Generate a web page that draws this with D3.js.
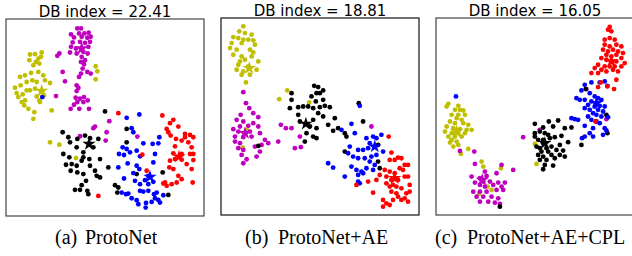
<!DOCTYPE html>
<html>
<head>
<meta charset="utf-8">
<script src="https://cdn.jsdelivr.net/npm/d3@7"></script>
<style>
  body { margin: 0; background: #fff; }
</style>
</head>
<body>
<svg id="chart" width="632" height="256"></svg>
<script>
const classes = ["y", "m", "k", "b", "r"];
const classColors = ["#bfbf00", "#bf00bf", "#000000", "#0000ff", "#ff0000"];

const titles = ["DB index = 22.41", "DB index = 18.81", "DB index = 16.05"];
const captionLabels = ["(a)", "(b)", "(c)"];
const captionNames = ["ProtoNet", "ProtoNet+AE", "ProtoNet+AE+CPL"];

// embedding coordinates (arbitrary units)
const aYellow = [[90,163],[105,162],[125,157],[123,170],[88,180],[108,185],[115,175],[100,195],[118,190],[115,215],[130,225],[135,240],[150,248],[93,218],[75,225],[60,230],[80,245],[97,240],[110,245],[62,255],[45,262],[50,278],[55,290],[68,282],[75,300],[80,270],[90,270],[105,265],[110,288],[132,285],[120,305],[65,305],[73,315],[85,325],[103,335],[100,355],[118,300],[150,425],[178,432],[228,472],[287,198],[292,213],[287,237],[155,330]];
const aMagenta = [[232,85],[243,85],[213,103],[237,100],[253,100],[266,98],[222,112],[245,110],[262,113],[272,110],[218,127],[240,125],[255,128],[270,125],[213,140],[228,145],[265,140],[178,160],[172,167],[210,157],[230,160],[250,155],[263,160],[245,170],[255,180],[243,185],[252,192],[248,205],[262,215],[272,220],[243,220],[188,215],[195,243],[237,230],[230,255],[235,263],[227,292],[240,295],[252,290],[263,300],[232,305],[250,305],[222,313],[212,325],[238,325],[267,325],[168,287],[230,272],[285,378],[280,383],[328,362],[320,395],[317,420],[240,407],[412,408]];
const aBlack = [[315,333],[188,395],[205,410],[232,415],[255,405],[270,413],[295,415],[210,425],[230,440],[280,440],[250,455],[190,460],[208,470],[250,470],[230,495],[198,492],[215,490],[245,480],[268,475],[300,475],[270,495],[212,510],[232,515],[250,520],[285,510],[290,525],[300,530],[325,500],[258,540],[245,553],[225,567],[240,567],[262,570],[265,580],[345,553],[355,560],[352,575],[380,385],[380,425],[505,582],[488,515],[410,520]];
const aBlue = [[380,352],[418,342],[395,383],[400,395],[478,410],[430,428],[458,430],[475,428],[368,440],[380,445],[357,460],[372,463],[390,455],[410,450],[420,467],[465,460],[383,488],[410,495],[460,485],[355,500],[372,533],[400,517],[418,505],[445,525],[435,538],[460,543],[445,550],[405,540],[420,550],[385,578],[365,575],[378,580],[420,570],[430,572],[445,570],[462,580],[470,575],[490,583],[395,592],[410,598],[438,606],[455,603],[475,597],[465,592],[480,605],[437,620],[415,610],[127,290]];
const aRed = [[355,338],[487,345],[520,358],[510,368],[535,378],[500,385],[505,395],[512,405],[555,400],[570,403],[580,410],[555,410],[528,415],[545,420],[565,425],[575,440],[525,437],[545,460],[520,458],[570,460],[580,460],[510,480],[525,475],[545,477],[580,478],[560,490],[508,500],[520,505],[575,505],[535,525],[545,535],[530,545],[515,550],[500,555],[495,545],[578,545],[440,510],[427,462],[295,585],[490,548]];
const aStars = [[125,272],[245,145],[267,430],[450,528],[537,468]];

const bYellow = [[100,80],[88,95],[105,100],[125,105],[70,112],[85,115],[100,120],[115,120],[130,122],[65,130],[95,130],[135,135],[60,145],[80,150],[120,150],[130,158],[70,165],[95,170],[125,170],[90,185],[105,180],[145,185],[85,195],[115,200],[80,210],[100,215],[140,210],[95,225],[120,225],[108,248],[232,272],[208,298],[298,308],[110,390],[98,443]];
const bMagenta = [[100,277],[108,310],[118,325],[92,345],[130,340],[145,352],[80,360],[100,365],[130,370],[90,380],[115,378],[145,380],[70,388],[85,395],[120,395],[150,400],[75,410],[100,412],[125,410],[165,420],[75,425],[90,430],[135,440],[155,435],[175,430],[85,445],[100,450],[150,455],[205,425],[213,375],[228,385],[245,385],[270,410],[255,445],[273,442],[95,465],[110,478],[140,470],[100,490],[485,380]];
const bBlack = [[313,258],[325,262],[340,272],[320,280],[245,280],[330,280],[305,290],[340,300],[318,305],[245,300],[280,320],[265,322],[295,320],[310,325],[330,322],[345,318],[360,322],[240,325],[325,340],[265,345],[310,360],[340,350],[355,375],[375,355],[270,365],[300,380],[320,385],[290,400],[310,410],[320,415],[285,425],[370,393],[385,385],[405,400],[410,410],[447,310],[460,365],[505,435],[505,485],[510,505],[405,455],[145,438]];
const bBlue = [[450,318],[395,390],[425,372],[435,400],[470,415],[490,410],[515,405],[500,415],[520,455],[480,430],[475,445],[460,450],[445,450],[420,440],[430,470],[445,475],[465,475],[480,485],[425,500],[440,510],[455,515],[470,505],[495,495],[490,510],[355,490],[370,503],[405,530],[445,525],[460,520],[450,550],[445,545],[415,460],[500,465],[485,470]];
const bRed = [[537,410],[545,458],[540,480],[555,480],[565,473],[575,475],[585,495],[595,495],[525,510],[540,515],[555,520],[570,505],[580,510],[530,530],[545,540],[565,540],[585,530],[595,530],[600,555],[540,560],[560,560],[575,565],[590,580],[545,575],[560,580],[585,595],[595,605],[520,600],[530,610],[540,615],[520,620],[550,600],[565,590],[575,600],[600,575],[500,540],[475,545],[440,555],[490,578],[510,525],[530,550],[550,555]];
const bStars = [[118,205],[105,400],[288,372],[495,440],[555,535]];

const cYellow = [[70,312],[65,320],[100,318],[105,330],[90,330],[115,332],[80,345],[100,345],[120,345],[95,355],[110,360],[75,365],[90,370],[115,370],[130,375],[65,380],[85,385],[105,388],[125,390],[140,390],[60,395],[80,400],[100,400],[120,400],[70,410],[90,410],[110,410],[80,420],[95,425],[75,428],[100,435],[85,440],[130,447],[108,462],[170,485],[175,500],[228,505],[200,570],[162,582],[188,560],[330,432],[335,492]];
const cMagenta = [[105,453],[148,455],[150,492],[180,515],[230,495],[265,510],[140,530],[165,535],[185,528],[215,520],[175,545],[195,545],[220,548],[240,548],[150,548],[165,555],[180,560],[205,555],[230,560],[145,575],[165,575],[185,575],[215,570],[235,570],[155,590],[175,590],[200,590],[220,595],[165,605],[190,605],[210,608],[225,612],[295,412],[345,390],[485,268],[545,358]];
const cBlack = [[225,620],[330,372],[372,365],[400,362],[355,383],[385,380],[420,385],[440,383],[330,400],[345,395],[360,400],[370,405],[410,408],[330,410],[340,420],[355,420],[375,415],[390,412],[355,430],[335,440],[345,445],[365,445],[380,440],[405,435],[430,427],[350,455],[370,455],[395,450],[415,452],[340,465],[355,470],[380,465],[405,465],[420,470],[345,480],[365,480],[390,475],[360,495],[385,497],[355,508],[483,268],[545,345],[548,400],[470,435]];
const cBlue = [[93,290],[480,255],[500,248],[525,248],[540,245],[548,258],[470,272],[495,280],[510,290],[520,295],[455,295],[465,300],[480,300],[500,305],[530,300],[490,315],[510,320],[525,318],[540,320],[480,325],[495,330],[520,330],[535,335],[505,340],[515,345],[490,350],[530,350],[550,352],[440,355],[450,358],[460,360],[500,360],[515,365],[480,378],[525,370],[505,385],[540,385],[495,400],[505,410],[480,410],[545,392],[535,405],[472,415]];
const cRed = [[555,82],[550,90],[560,95],[540,120],[555,115],[570,120],[540,135],[555,140],[575,135],[590,140],[535,150],[550,155],[565,150],[580,155],[595,160],[545,165],[560,170],[575,165],[590,175],[530,175],[545,180],[575,185],[600,190],[520,195],[540,200],[555,200],[570,200],[590,200],[510,205],[530,210],[545,215],[565,210],[580,215],[500,220],[520,220],[575,240],[528,248],[520,262],[548,260],[568,268],[512,365]];
const cStars = [[95,395],[172,540],[360,430],[515,310],[560,185]];

const panels = [
  { series: [aYellow, aMagenta, aBlack, aBlue, aRed], stars: aStars, dx: [18, 612], dy: [57, 645], x0: 6, y0: 19, border: "#444" },
  { series: [bYellow, bMagenta, bBlack, bBlue, bRed], stars: bStars, dx: [33, 628], dy: [55, 645], x0: 221, y0: 18, border: "#111" },
  { series: [cYellow, cMagenta, cBlack, cBlue, cRed], stars: cStars, dx: [33, 628], dy: [55, 645], x0: 436, y0: 18, border: "#444" }
];
// caption label / name start positions
const captionPos = [[55, 85], [245, 278], [435, 467]];

const svg = d3.select("#chart");
const pw = 198, ph = 197;
const star = d3.symbol().type(d3.symbolStar).size(55);

panels.forEach((p, i) => {
  const g = svg.append("g").attr("transform", `translate(${p.x0},${p.y0})`);
  const x = d3.scaleLinear().domain(p.dx).range([0, pw]);
  const y = d3.scaleLinear().domain(p.dy).range([0, ph]);

  p.series.forEach((pts, c) => {
    g.append("g").selectAll("circle")
      .data(pts)
      .join("circle")
      .attr("cx", d => x(d[0]))
      .attr("cy", d => y(d[1]))
      .attr("r", 2.4)
      .attr("fill", classColors[c]);
  });

  g.append("g").selectAll("path")
    .data(p.stars)
    .join("path")
    .attr("d", star)
    .attr("transform", d => `translate(${x(d[0])},${y(d[1])})`)
    .attr("fill", (d, c) => classColors[c]);

  g.append("rect")
    .attr("width", pw)
    .attr("height", ph)
    .attr("fill", "none")
    .attr("stroke", p.border)
    .attr("stroke-width", 1.2);

  g.append("text")
    .attr("x", pw / 2)
    .attr("y", -2)
    .attr("text-anchor", "middle")
    .attr("font-family", "DejaVu Sans")
    .attr("font-size", "15px")
    .text(titles[i]);

  const cap = svg.append("text")
    .attr("y", 244)
    .attr("font-family", "Liberation Serif")
    .attr("font-size", "20px");
  cap.append("tspan").attr("x", captionPos[i][0]).text(captionLabels[i]);
  cap.append("tspan").attr("x", captionPos[i][1]).text(captionNames[i]);
});
</script>
</body>
</html>
